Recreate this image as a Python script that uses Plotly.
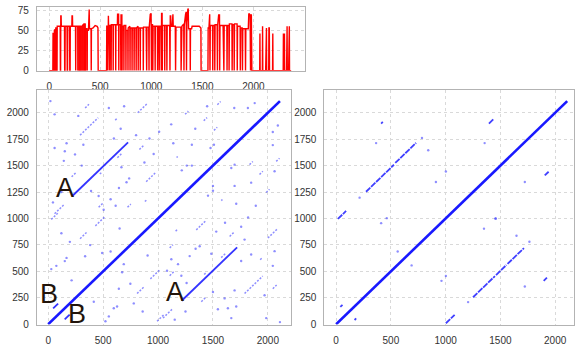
import plotly.graph_objects as go

# ---------------- data ----------------
# coverage profile along the sequence (position, depth)
coverage = [
    (0, 0), (36, 0), (38, 46), (44, 46), (46, 0), (49, 0), (51, 50), (58, 51), (60, 0), (63, 0),
    (65, 53), (72, 53), (74, 0), (77, 0), (79, 55), (108, 55), (110, 0), (112, 0), (114, 68), (117, 68),
    (119, 55), (150, 55), (152, 0), (155, 0), (157, 55), (175, 55), (177, 0), (180, 0), (182, 55), (200, 55),
    (202, 0), (205, 0), (207, 55), (222, 55), (224, 68), (228, 68), (230, 55), (258, 55), (260, 0), (262, 55),
    (280, 55), (282, 0), (284, 55), (300, 55), (302, 0), (304, 55), (320, 55), (322, 0), (324, 55), (340, 58),
    (342, 0), (344, 58), (352, 58), (354, 0), (356, 52), (370, 52), (372, 0), (374, 50), (385, 50), (388, 76),
    (392, 76), (395, 52), (410, 52), (412, 0), (414, 52), (430, 53), (450, 56), (470, 55), (478, 53), (480, 0),
    (562, 0), (564, 55), (572, 55), (574, 0), (576, 68), (580, 68), (582, 55), (590, 55), (592, 0), (594, 56),
    (605, 56), (607, 0), (609, 57), (625, 57), (627, 0), (629, 57), (650, 57), (652, 0), (654, 57), (668, 57),
    (670, 70), (680, 70), (682, 0), (684, 57), (700, 57), (702, 0), (704, 69), (712, 69), (714, 0), (716, 55),
    (730, 55), (732, 0), (734, 56), (750, 56), (752, 0), (754, 50), (770, 50), (772, 0), (774, 53), (790, 55),
    (792, 0), (794, 53), (810, 53), (812, 0), (814, 53), (830, 53), (832, 0), (834, 53), (850, 53), (852, 0),
    (854, 53), (870, 55), (872, 0), (874, 53), (890, 53), (892, 0), (894, 53), (920, 53), (922, 0), (924, 54),
    (950, 54), (955, 0), (958, 54), (975, 54), (978, 0), (980, 54), (990, 70), (998, 71), (1002, 0), (1005, 58),
    (1012, 58), (1015, 0), (1018, 55), (1035, 55), (1038, 0), (1040, 55), (1060, 55), (1062, 0), (1064, 55),
    (1075, 55), (1078, 0), (1081, 55), (1095, 55), (1098, 0), (1101, 71), (1106, 71), (1108, 0), (1110, 56),
    (1130, 56), (1132, 0), (1134, 56), (1150, 56), (1153, 0), (1156, 56), (1180, 56), (1183, 0), (1186, 68),
    (1190, 68), (1193, 55), (1205, 55), (1208, 70), (1212, 70), (1215, 55), (1235, 55), (1238, 0), (1242, 54),
    (1290, 54), (1292, 0), (1300, 55), (1318, 58), (1320, 0), (1323, 56), (1336, 70), (1342, 73), (1345, 0),
    (1348, 60), (1358, 76), (1362, 77), (1365, 52), (1380, 52), (1382, 0), (1384, 52), (1395, 52), (1400, 55),
    (1440, 55), (1470, 55), (1486, 53), (1488, 0),
    (1555, 0), (1557, 53), (1565, 53), (1568, 70), (1572, 70), (1575, 0), (1578, 56), (1600, 56), (1602, 0),
    (1605, 56), (1620, 56), (1622, 0), (1625, 57), (1645, 57), (1648, 0), (1650, 56), (1660, 69), (1668, 69),
    (1670, 0), (1673, 56), (1700, 56), (1703, 56), (1711, 0), (1714, 56), (1740, 56), (1742, 0), (1745, 56),
    (1760, 56), (1762, 0), (1765, 58), (1790, 58), (1792, 0), (1795, 57), (1810, 57), (1812, 0), (1815, 58),
    (1840, 58), (1842, 0), (1845, 55), (1870, 55), (1872, 0), (1875, 53), (1890, 53), (1893, 0), (1896, 52),
    (1920, 52), (1923, 0), (1926, 52), (1950, 52), (1955, 71), (1962, 70), (1968, 69), (1972, 0), (1975, 69),
    (1980, 69), (1985, 0),
    (2062, 0), (2064, 46), (2066, 0), (2088, 0), (2090, 55), (2092, 0), (2120, 0), (2122, 53), (2128, 53),
    (2130, 0), (2150, 0), (2152, 53), (2156, 53), (2158, 0), (2188, 0), (2190, 46), (2192, 0), (2292, 0),
    (2294, 46), (2296, 0), (2302, 0), (2304, 46), (2306, 0), (2325, 0), (2327, 54), (2330, 55), (2332, 0),
    (2345, 0), (2347, 54), (2352, 55), (2354, 0), (2370, 0),
]
# faint low-quality strokes inside the first block
faint_pos = [286, 290, 295, 299, 306, 310, 315, 327, 331, 336, 346, 349, 361, 366]
faint_val = [55, 55, 55, 55, 55, 55, 55, 55, 55, 58, 58, 58, 52, 52]

# self-alignment of the full sequence
seq_len = 2110
# repeat A and repeat B (start x, start y, length), lower triangle
repeat_a = (1215, 222, 505)
repeat_b = (150, 45, 45)
# other word hits in the lower triangle (start x, start y, run length)
hits_x = [1348, 1652, 1788, 1757, 1530, 2000, 1106, 1342, 1379, 1288, 1485, 1575, 1757, 1848, 2061,
          2045, 1121, 1182, 1106, 1212, 1082, 1500, 1697, 1788, 1970, 2045, 1394, 1606, 1545, 1636,
          1712, 1667, 1985, 1045, 1152, 688, 673, 748, 643, 809, 779, 597, 552, 415, 930, 991, 521,
          627, 2091, 2045, 2045, 2076, 2061, 1924, 1848, 1985, 1833, 1697, 1667, 1697, 1576, 1712,
          1500, 1500, 1455, 2110, 1250, 1420, 1610, 1890, 1930, 860, 905, 1160, 1260, 1820]
hits_y = [892, 830, 800, 922, 876, 815, 722, 713, 737, 644, 667, 630, 598, 660, 691,
          552, 614, 568, 459, 459, 505, 305, 320, 290, 274, 336, 213, 244, 142, 151,
          167, 58, 58, 58, 43, 568, 491, 382, 336, 290, 197, 151, 74, 213, 429, 28, 28,
          167, 1880, 1818, 1694, 1540, 1447, 1416, 1339, 1246, 1509, 1509, 1478, 1308, 1169, 1139,
          1262, 1308, 1216, 20, 120, 470, 960, 1120, 610, 120, 650, 880, 390, 1010]
hits_len = [90, 45, 0, 0, 0, 90, 30, 0, 0, 0, 0, 40, 0, 0, 0,
            0, 0, 0, 45, 0, 0, 0, 0, 165, 0, 35, 45, 0, 0, 0,
            0, 0, 0, 85, 0, 0, 0, 0, 0, 60, 0, 0, 0, 0, 90, 60, 0,
            0, 0, 0, 0, 30, 0, 30, 0, 30, 30, 0, 0, 0, 10, 0,
            0, 0, 0, 0, 0, 20, 0, 0, 15, 0, 0, 20, 0, 0]

# filtered alignment (start x, start y, run length)
filt_x = [1250, 1460, 1565, 273, 540, 38, 168, 1002, 1895, 411, 1395, 1905, 16,
          411, 462, 562, 689, 962, 1002, 1205, 1350, 1456, 1647, 1765, 1723, 365, 784,
          841, 1002, 911, 214, 1356, 1723, 1456]
filt_y = [255, 465, 570, 1253, 1525, 163, 40, 9, 410, 1898, 1898, 1407, 996,
          956, 1003, 688, 556, 410, 456, 209, 904, 1003, 836, 780, 357, 1713, 1762,
          1645, 1444, 1345, 1197, 1713, 1345, 996]
filt_len = [200, 95, 150, 255, 190, 20, 15, 80, 30, 15, 45, 35, 75,
            0, 0, 0, 0, 0, 0, 0, 0, 0, 0, 0, 0, 0, 0,
            0, 0, 0, 0, 0, 0, 0]

tick_top_y = [0, 25, 50, 75]
tick_pos = [0, 500, 1000, 1500, 2000]
tick_dot_y = [0, 250, 500, 750, 1000, 1250, 1500, 1750, 2000]

# ---------------- helpers ----------------
def runs_to_xy(xs, ys, ls):
    lx, ly, px, py = [], [], [], []
    for x, y, n in zip(xs, ys, ls):
        if n > 0:
            lx += [x, x + n, None]
            ly += [y, y + n, None]
        else:
            px.append(x)
            py.append(y)
    return lx, ly, px, py


BLUE = "rgb(25,25,255)"
HIT = "rgba(50,50,255,0.55)"
RUN_DASH = "2px,1.5px"

fig = go.Figure()

# coverage panel
fig.add_trace(go.Scatter(
    x=[p for p, _ in coverage], y=[v for _, v in coverage], mode="lines",
    line=dict(color="rgb(255,0,0)", width=1.4), xaxis="x", yaxis="y", hoverinfo="skip"))
fx, fy = [], []
for p, v in zip(faint_pos, faint_val):
    fx += [p, p, None]
    fy += [0, v, None]
fig.add_trace(go.Scatter(x=fx, y=fy, mode="lines",
                         line=dict(color="rgba(255,0,0,0.4)", width=2.5),
                         xaxis="x", yaxis="y", hoverinfo="skip"))

# full dot plot (symmetric: mirror lower-triangle hits)
all_x = hits_x + hits_y
all_y = hits_y + hits_x
all_l = hits_len + hits_len
lx, ly, px, py = runs_to_xy(all_x, all_y, all_l)
fig.add_trace(go.Scatter(x=lx, y=ly, mode="lines", line=dict(color=HIT, width=1.5, dash=RUN_DASH),
                         xaxis="x2", yaxis="y2", hoverinfo="skip"))
fig.add_trace(go.Scatter(x=px, y=py, mode="markers",
                         marker=dict(color=HIT, size=2.4, line=dict(width=0)),
                         xaxis="x2", yaxis="y2", hoverinfo="skip"))
rep_x, rep_y = [], []
for (x, y, n) in [repeat_a, repeat_b]:
    rep_x += [x, x + n, None, y, y + n, None]
    rep_y += [y, y + n, None, x, x + n, None]
fig.add_trace(go.Scatter(x=rep_x, y=rep_y, mode="lines",
                         line=dict(color="rgba(30,30,255,0.9)", width=1.8),
                         xaxis="x2", yaxis="y2", hoverinfo="skip"))
fig.add_trace(go.Scatter(x=[0, seq_len], y=[0, seq_len], mode="lines",
                         line=dict(color=BLUE, width=2.6), xaxis="x2", yaxis="y2", hoverinfo="skip"))

# filtered dot plot
lx, ly, px, py = runs_to_xy(filt_x, filt_y, filt_len)
fig.add_trace(go.Scatter(x=lx, y=ly, mode="lines",
                         line=dict(color="rgba(30,30,255,0.85)", width=1.8, dash="6px,1px"),
                         xaxis="x3", yaxis="y3", hoverinfo="skip"))
fig.add_trace(go.Scatter(x=px, y=py, mode="markers",
                         marker=dict(color=HIT, size=2.4, line=dict(width=0)),
                         xaxis="x3", yaxis="y3", hoverinfo="skip"))
fig.add_trace(go.Scatter(x=[0, seq_len], y=[0, seq_len], mode="lines",
                         line=dict(color=BLUE, width=2.6), xaxis="x3", yaxis="y3", hoverinfo="skip"))

# repeat labels
label_font = dict(family="Liberation Sans, Arial, sans-serif", size=27, color="#22140a")
for txt, x, y in [("A", 150, 1290), ("A", 1150, 300), ("B", 10, 290), ("B", 262, 95)]:
    fig.add_annotation(text=txt, x=x, y=y, xref="x2", yref="y2", showarrow=False, font=label_font)

GRID = "#d9d9d9"
FRAME = "#b3b3b3"
tickfont = dict(family="Liberation Sans, Arial, sans-serif", size=10, color="#333")
common = dict(showgrid=True, gridcolor=GRID, griddash="3px,3px", gridwidth=1,
              showline=True, linecolor=FRAME, linewidth=1, mirror=True,
              zeroline=False, ticks="outside", tickcolor="rgba(0,0,0,0)",
              tickfont=tickfont, fixedrange=True)

fig.update_layout(
    width=575, height=355, margin=dict(l=0, r=0, t=0, b=0),
    paper_bgcolor="white", plot_bgcolor="white", showlegend=False,
    xaxis=dict(domain=[0.0643, 0.532], anchor="y", range=[-120, 2509], tickvals=tick_pos,
               ticklen=6, **common),
    yaxis=dict(domain=[0.8028, 0.9868], anchor="x", range=[0, 79.5], tickvals=tick_top_y,
               ticklen=5, **common),
    xaxis2=dict(domain=[0.0643, 0.5078], anchor="y2", range=[-103, 2215], tickvals=tick_pos,
                ticklen=6, **common),
    yaxis2=dict(domain=[0.0732, 0.7465], anchor="x2", range=[-3, 2213], tickvals=tick_dot_y,
                ticklen=5, **common),
    xaxis3=dict(domain=[0.5652, 1.0], anchor="y3", range=[-107, 2172], tickvals=tick_pos,
                ticklen=6, **common),
    yaxis3=dict(domain=[0.0732, 0.7465], anchor="x3", range=[-3, 2213], tickvals=tick_dot_y,
                ticklen=5, **common),
)

fig.write_html("out.html")
